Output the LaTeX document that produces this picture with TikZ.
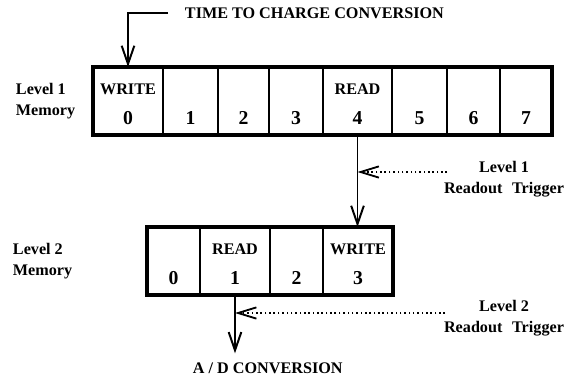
\documentclass[tikz,border=0pt]{standalone}
\usepackage{fontspec}
\setmainfont{Liberation Serif}
\usepackage{tikz}
\usetikzlibrary{arrows.meta}

\tikzset{
  cell/.style={draw, line width=1.7pt, minimum height=1.7cm, inner sep=0pt, outer sep=0pt},
  digit/.style={font=\bfseries\fontsize{14}{16}\selectfont},
  feed/.style={line width=1.4pt, -{Straight Barb[length=13pt,width=9pt,line width=1.4pt]}},
  trig/.style={line width=1.1pt, dash pattern=on 1.1pt off 2pt, -{Straight Barb[length=13pt,width=8pt,line width=1.3pt]}},
  side/.style={anchor=west, align=left},
  trlabel/.style={align=center}
}

\begin{document}
\begin{tikzpicture}[x=0.025cm, y=-0.025cm, font=\bfseries\fontsize{11.5}{15}\selectfont]
\useasboundingbox (0,0) rectangle (566,376);

% level 1 memory
\foreach \l/\r/\n in {93/163/0, 163/218/1, 218/269/2, 269/323/3, 323/392/4, 392/447/5, 447/500/6, 500/552/7}
{
  \node[cell, minimum width={(\r-\l)*0.025cm}] (l1c\n) at ({(\l+\r)/2},101) {};
  \node[digit] (l1n\n) at ([yshift=-12pt]l1c\n.center) {\n};
}
\draw[line width=2.2pt] (l1c0.north west) rectangle (l1c7.south east);
\node (l1w) at ([yshift=8.5pt]l1c0.center) {WRITE};
\node (l1r) at ([yshift=8.5pt]l1c4.center) {READ};
\node[side] (m1) at (11,101) {Level 1\\Memory};

% level 2 memory
\foreach \l/\r/\n in {147/200/0, 200/270/1, 270/323/2, 323/393/3}
{
  \node[cell, minimum width={(\r-\l)*0.025cm}] (l2c\n) at ({(\l+\r)/2},261) {};
  \node[digit] (l2n\n) at ([yshift=-12pt]l2c\n.center) {\n};
}
\draw[line width=2.2pt] (l2c0.north west) rectangle (l2c3.south east);
\node (l2r) at ([yshift=8.5pt]l2c1.center) {READ};
\node (l2w) at ([yshift=8.5pt]l2c3.center) {WRITE};
\node[side] (m2) at (8,261) {Level 2\\Memory};

% conversions
\node[anchor=west] (ttc) at (180,13) {TIME TO CHARGE CONVERSION};
\draw[feed] ([xshift=-8.5pt]ttc.west) -| (l1c0.north);
\draw[feed] (l1c4.south) -- (l1c4.south |- l2c3.north);
\node[anchor=west] (adc) at (188,368) {A / D CONVERSION};
\draw[feed] (l2c1.south) -- ([yshift=3pt]adc.north -| l2c1.south);

% readout triggers
\node[trlabel] (tr1) at (504,179) {Level 1\\Readout\hspace{0.6em}Trigger};
\coordinate (t1a) at (447,172);
\draw[trig] (t1a) -- (t1a -| l1c4.south);
\node[trlabel] (tr2) at (504,318) {Level 2\\Readout\hspace{0.6em}Trigger};
\coordinate (t2a) at (445,313);
\draw[trig] (t2a) -- (t2a -| l2c1.south);
\end{tikzpicture}
\end{document}
